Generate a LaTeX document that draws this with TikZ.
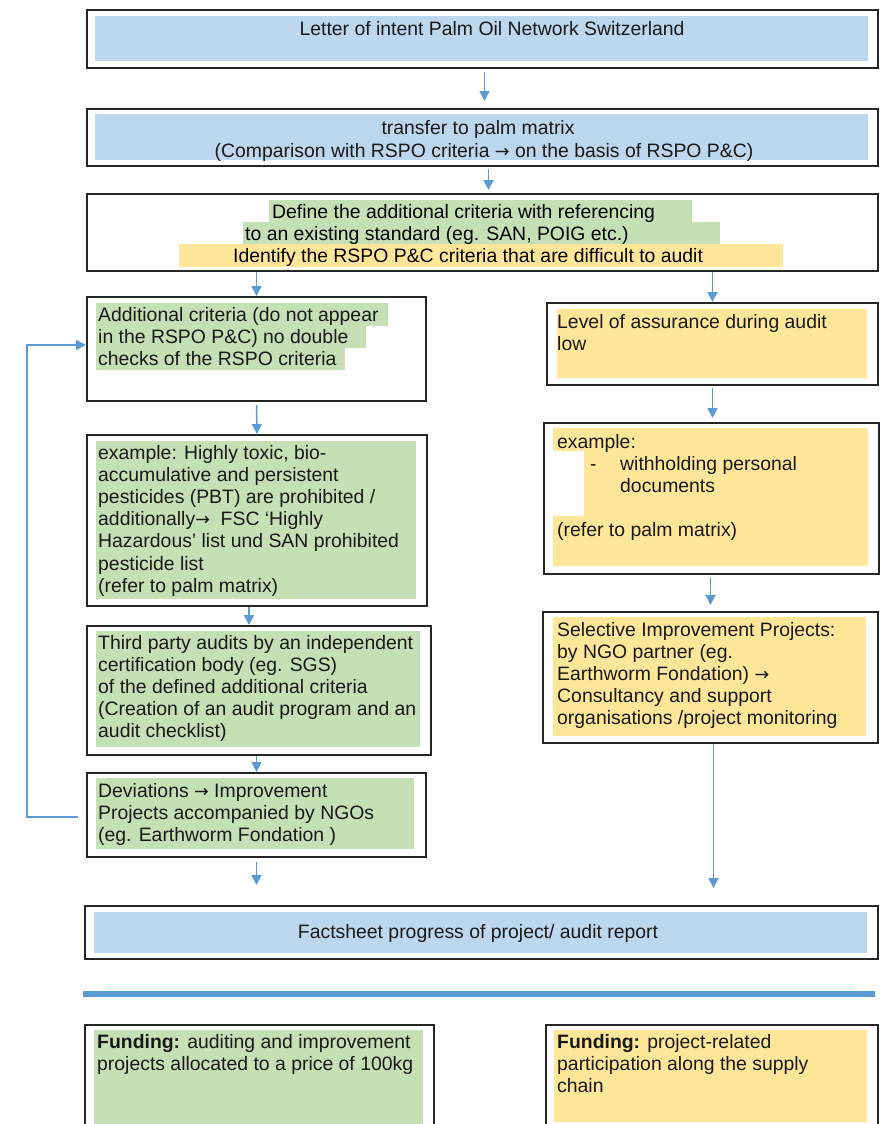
\documentclass[tikz,border=0pt]{standalone}
\usepackage{fontspec}
\setmainfont{Liberation Sans}
\newfontfamily\arrowfont{DejaVu Sans}
\usepackage{tikz}
\usetikzlibrary{positioning,arrows.meta}
\usepackage{xcolor}

\definecolor{fillblue}{HTML}{BDD7EE}
\definecolor{fillgreen}{HTML}{C5E0B4}
\definecolor{fillyellow}{HTML}{FFE699}
\definecolor{arrowblue}{HTML}{5B9BD5}
\newcommand{\bodyfont}{\fontsize{19.4}{22.2}\selectfont}
\newcommand{\rarr}{{\arrowfont\fontsize{17.5}{22.2}\selectfont →}}

\begin{document}
\begin{tikzpicture}[x=1pt, y=-1pt,
    frame/.style={draw=black!85, line width=2pt, anchor=north west, inner sep=0pt},
    flow/.style={draw=arrowblue, line width=1.5pt, -{Triangle[length=10pt,width=10pt]}},
    txt/.style={anchor=north west, inner sep=0pt, align=left, font=\bodyfont, text=black!90},
    ctr/.style={anchor=base, inner sep=0pt, font=\bodyfont, text=black!90}]
    \useasboundingbox (0,0) rectangle (884,1124);
    \clip (0,0) rectangle (884,1124);

    % shaded areas
    \fill[fillblue] (95,16) rectangle (868,61);
    \fill[fillblue] (95,114) rectangle (868,160);
    \fill[fillblue] (94,912) rectangle (867,953);
    \fill[fillgreen] (269,200) rectangle (692,222);
    \fill[fillgreen] (243,222) rectangle (720,244);
    \fill[fillyellow] (179,244) rectangle (783,267);
    \fill[fillgreen] (96,303) rectangle (388,326);
    \fill[fillgreen] (96,326) rectangle (366,348);
    \fill[fillgreen] (96,348) rectangle (345,370);
    \fill[fillgreen] (96,441) rectangle (416,599);
    \fill[fillgreen] (96,631) rectangle (420,747);
    \fill[fillgreen] (96,778) rectangle (414,849);
    \fill[fillgreen] (94,1030) rectangle (423,1124);
    \fill[fillyellow] (557,309) rectangle (867,378);
    \fill[fillyellow] (553,428) rectangle (868,566);
    \fill[white] (553,451) rectangle (584,516);
    \fill[fillyellow] (553,617) rectangle (866,736);
    \fill[fillyellow] (554,1030) rectangle (867,1122);

    % frames
    \node[frame, minimum width=791pt, minimum height=58pt] (letter) at (86,9) {};
    \node[frame, minimum width=791pt, minimum height=57pt] (matrix) at (86,108) {};
    \node[frame, minimum width=791pt, minimum height=77pt] (define) at (86,193) {};
    \node[frame, minimum width=339pt, minimum height=104pt] (additional) at (86,296) {};
    \node[frame, minimum width=340pt, minimum height=171pt] (pbt) at (86,434) {};
    \node[frame, minimum width=344pt, minimum height=129pt] (thirdparty) at (86,625) {};
    \node[frame, minimum width=339pt, minimum height=84pt] (deviations) at (86,772) {};
    \node[frame, minimum width=331pt, minimum height=82pt] (assurance) at (546,302) {};
    \node[frame, minimum width=335pt, minimum height=151pt] (withholding) at (543,422) {};
    \node[frame, minimum width=335pt, minimum height=131pt] (selective) at (542,611) {};
    \node[frame, minimum width=793pt, minimum height=53pt] (factsheet) at (84,905) {};
    \node[frame, minimum width=349pt, minimum height=116pt] (fundingA) at (84,1024) {};
    \node[frame, minimum width=332pt, minimum height=116pt] (fundingB) at (545,1024) {};

    % texts
    \node[ctr] (letterT) at (492,36) {Letter of intent Palm Oil Network Switzerland};
    \node[ctr] (matrixT) at (478,134) {transfer to palm matrix};
    \node[ctr] (matrixU) at (484,157) {(Comparison with RSPO criteria \rarr\ on the basis of RSPO P\&C)};
    \node[anchor=base west, inner sep=0pt, font=\bodyfont] (defineT) at (272,218) {Define the additional criteria with referencing};
    \node[anchor=base west, inner sep=0pt, font=\bodyfont] (defineU) at (245,240) {to an existing standard (eg. SAN, POIG etc.)};
    \node[anchor=base west, inner sep=0pt, font=\bodyfont] (identifyT) at (233,262) {Identify the RSPO P\&C criteria that are difficult to audit};
    \node[txt] (additionalT) at (98,305.4) {\strut Additional criteria (do not appear\\in the RSPO P\&C) no double\\checks of the RSPO criteria};
    \node[txt] (pbtT) at (98,443.4) {\strut example: Highly toxic, bio-\\accumulative and persistent\\pesticides (PBT) are prohibited /\\additionally\rarr\ \ FSC ‘Highly\\Hazardous’ list und SAN prohibited\\pesticide list\\(refer to palm matrix)};
    \node[txt] (thirdpartyT) at (98,633.4) {\strut Third party audits by an independent\\certification body (eg. SGS)\\of the defined additional criteria\\(Creation of an audit program and an\\audit checklist)};
    \node[txt] (deviationsT) at (98,781.4) {\strut Deviations \rarr\ Improvement\\Projects accompanied by NGOs\\(eg. Earthworm Fondation )};
    \node[txt] (assuranceT) at (557,312.4) {\strut Level of assurance during audit\\low};
    \node[txt] (withholdingT) at (557,432.4) {\strut example:\\\hspace*{33pt}\makebox[30pt][l]{-}withholding personal\\\hspace*{63pt}documents\\[22.2pt](refer to palm matrix)};
    \node[txt] (selectiveT) at (557,620.4) {\strut Selective Improvement Projects:\\by NGO partner (eg.\\Earthworm Fondation) \rarr\\Consultancy and support\\organisations /project monitoring};
    \node[ctr] (factsheetT) at (478,938) {Factsheet progress of project/ audit report};
    \node[txt] (fundingAT) at (97,1032.4) {\strut\textbf{Funding:} auditing and improvement\\projects allocated to a price of 100kg};
    \node[txt] (fundingBT) at (557,1032.4) {\strut\textbf{Funding:} project-related\\participation along the supply\\chain};

    % arrows
    \draw[flow] ([shift={(2pt,-3pt)}]letter.south) -- ([shift={(2pt,7pt)}]matrix.north);
    \draw[flow] ([shift={(6pt,-2pt)}]matrix.south) -- ([shift={(6pt,3pt)}]define.north);
    \draw[flow] (define.south -| additional.north) -- (additional.north);
    \draw[flow] (define.south -| assurance.north) -- (assurance.north);
    \draw[flow] ([yshift=-3pt]additional.south) -- (pbt.north);
    \draw[flow] ([xshift=-8pt]pbt.south) -- ([xshift=-8pt]pbt.south |- thirdparty.north);
    \draw[flow] (thirdparty.south -| deviations.north) -- (deviations.north);
    \draw[flow, shorten <=4pt, shorten >=20pt] (deviations.south) -- (deviations.south |- factsheet.north);
    \draw[flow, shorten <=2pt, shorten >=4pt] (assurance.south) -- (assurance.south |- withholding.north);
    \draw[flow, shorten <=2pt, shorten >=6pt] (withholding.south -| selective.north) -- (selective.north);
    \draw[flow, shorten >=17pt] ([xshift=3pt]selective.south) -- ([xshift=3pt]selective.south |- factsheet.north);
    % back to the additional criteria
    \draw[flow] ([shift={(-8pt,-2pt)}]deviations.west) -| ([shift={(-59pt,4pt)}]additional.west) -- ([yshift=4pt]additional.west);

    % separator
    \draw[arrowblue, line width=6pt] (83,994) -- (875,994);
\end{tikzpicture}
\end{document}
